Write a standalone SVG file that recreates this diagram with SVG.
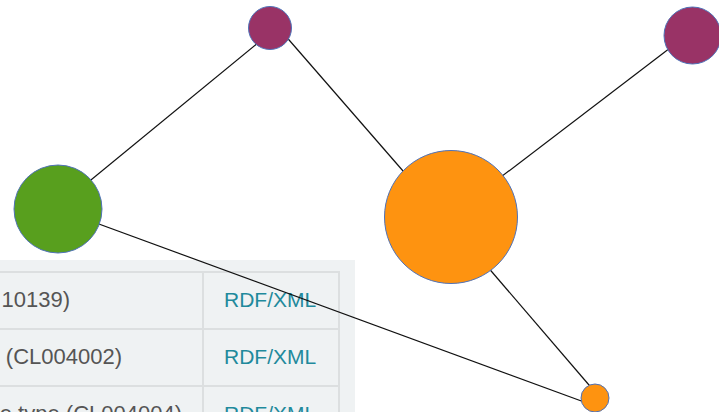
<svg xmlns="http://www.w3.org/2000/svg" width="719" height="412" viewBox="0 0 719 412">
<style>
.cell{font-family:"Liberation Sans",Arial,sans-serif;font-size:22px;fill:#555}
.link{font-family:"Liberation Sans",Arial,sans-serif;font-size:21px;fill:#1f8a9c}
.grid{stroke:#dcdfe0;stroke-width:2;fill:none}
.edge{stroke:#111;stroke-width:1.2;fill:none}
.node{stroke:#4f72b8;stroke-width:1}
</style>
<rect width="719" height="412" fill="#fff"/>
<g id="table">
<rect x="0" y="260" width="355" height="152" fill="#eff2f3"/>
<path class="grid" d="M0 272H339V412M203 272V412M0 329H339M0 386H339"/>
<text class="cell" x="70" y="307" text-anchor="end">10139)</text>
<text class="cell" x="122" y="364" text-anchor="end">(CL004002)</text>
<text class="cell" x="182" y="421" text-anchor="end">e type (CL004004)</text>
<text class="link" x="224" y="307">RDF/XML</text>
<text class="link" x="224" y="364">RDF/XML</text>
<text class="link" x="224" y="421">RDF/XML</text>
</g>
<g id="edges">
<line class="edge" x1="58" y1="207" x2="270" y2="33"/>
<line class="edge" x1="283" y1="33" x2="410" y2="179"/>
<line class="edge" x1="480" y1="193" x2="670" y2="48"/>
<line class="edge" x1="480" y1="258" x2="595" y2="392"/>
<line class="edge" x1="58" y1="209" x2="595" y2="406"/>
</g>
<g id="node-purple-top"><circle class="node" cx="270" cy="28" r="21.5" fill="#993366"/></g>
<g id="node-purple-right"><circle class="node" cx="692.5" cy="35.5" r="28.5" fill="#993366"/></g>
<g id="node-green"><circle class="node" cx="58" cy="209" r="44" fill="#589f1e"/></g>
<g id="node-orange-big"><circle class="node" cx="451" cy="217" r="66.5" fill="#fe9310"/></g>
<g id="node-orange-small"><circle class="node" cx="595" cy="398" r="14" fill="#fe9310"/></g>
</svg>
